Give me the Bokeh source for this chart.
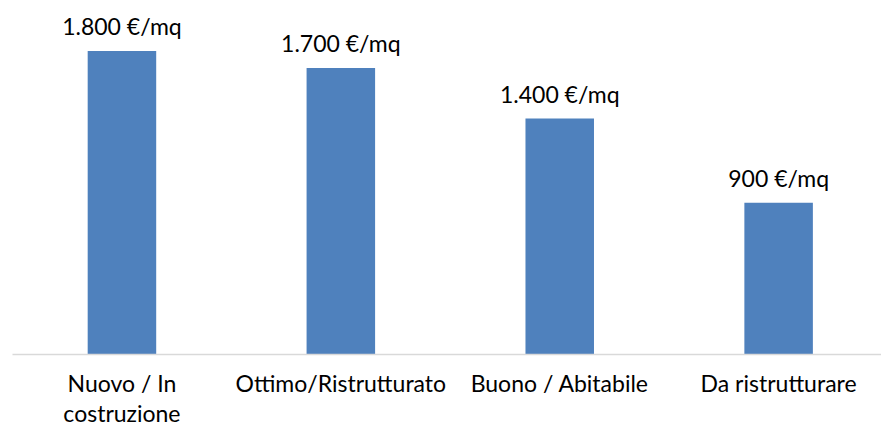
from bokeh.plotting import figure
from bokeh.models import FixedTicker, ColumnDataSource
from bokeh.embed import file_html
from bokeh.resources import INLINE
from bokeh.core.properties import value

categories = ["Nuovo / In\ncostruzione", "Ottimo/Ristrutturato", "Buono / Abitabile", "Da ristrutturare"]
prices = [1800, 1700, 1400, 900]
labels = [f"{v:,}".replace(",", ".") + " €/mq" for v in prices]
xs = list(range(len(categories)))

src = ColumnDataSource(dict(x=xs, top=prices, label=labels))

p = figure(width=881, height=430, output_backend="svg", toolbar_location=None,
           x_range=(-0.5, 3.47), y_range=(0, 2100),
           min_border_left=12, min_border_right=0, min_border_top=0, min_border_bottom=76)
p.outline_line_color = None
p.xgrid.visible = False
p.ygrid.visible = False
p.yaxis.visible = False

p.vbar(x="x", top="top", width=0.313, bottom=0, source=src, fill_color="#4f81bd", line_color=None)
p.text(x="x", y="top", text="label", source=src, text_align="center", text_baseline="bottom",
       y_offset=-11, text_font=value("Lato"), text_font_size="23px", text_color="#000000")

ax = p.xaxis[0]
ax.ticker = FixedTicker(ticks=xs)
ax.major_label_overrides = {i: c for i, c in enumerate(categories)}
ax.major_tick_line_color = None
ax.minor_tick_line_color = None
ax.axis_line_color = "#d9d9d9"
ax.axis_line_width = 1.5
ax.major_label_text_font = "Lato"
ax.major_label_text_font_size = "23px"
ax.major_label_text_color = "#000000"
ax.major_label_standoff = 8
ax.major_label_text_line_height = 1.1

open("out.html", "w").write(file_html(p, INLINE))
